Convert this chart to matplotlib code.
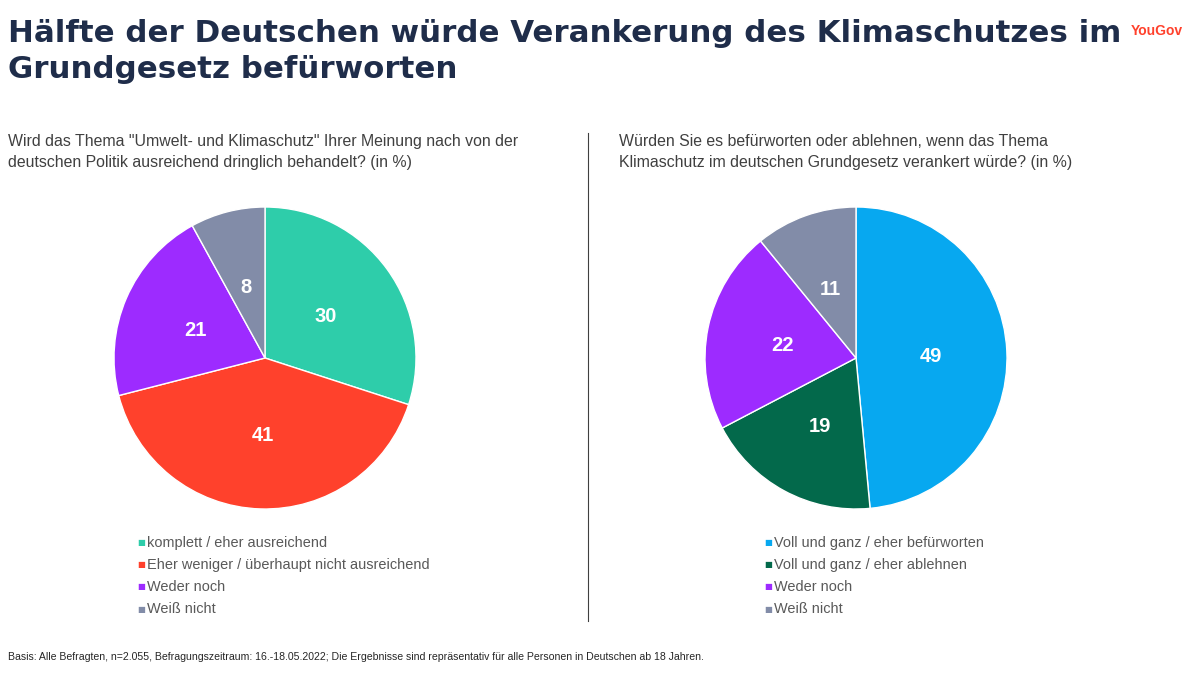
import matplotlib
matplotlib.use("Agg")
import matplotlib.pyplot as plt

plt.rcParams['font.family'] = ['Liberation Sans', 'DejaVu Sans']

title_lines = ["Hälfte der Deutschen würde Verankerung des Klimaschutzes im", "Grundgesetz befürworten"]
footer = "Basis: Alle Befragten, n=2.055, Befragungszeitraum: 16.-18.05.2022; Die Ergebnisse sind repräsentativ für alle Personen in Deutschen ab 18 Jahren."

question_left = "Wird das Thema \"Umwelt- und Klimaschutz\" Ihrer Meinung nach von der\ndeutschen Politik ausreichend dringlich behandelt? (in %)"
labels_left = ["komplett / eher ausreichend", "Eher weniger / überhaupt nicht ausreichend", "Weder noch", "Weiß nicht"]
values_left = [30, 41, 21, 8]
colors_left = ["#2ecdaa", "#ff412c", "#9d2bff", "#828ca8"]

question_right = "Würden Sie es befürworten oder ablehnen, wenn das Thema\nKlimaschutz im deutschen Grundgesetz verankert würde? (in %)"
labels_right = ["Voll und ganz / eher befürworten", "Voll und ganz / eher ablehnen", "Weder noch", "Weiß nicht"]
values_right = [49, 19, 22, 11]
colors_right = ["#07a8f0", "#03694b", "#9d2bff", "#828ca8"]

W, H = 1200, 675
fig = plt.figure(figsize=(W / 100, H / 100), dpi=100)


def draw_pie(cx, values, colors, labels, legend_x):
    # pie radius is about 151 px, centre at y=358
    r = 151
    ax = fig.add_axes([(cx - r) / W, 1 - (358 + r) / H, 2 * r / W, 2 * r / H])
    # right pie adds up to 101, so print the value itself and not the share
    numbers = iter(values)
    wedges, texts, autotexts = ax.pie(values, colors=colors, startangle=90, counterclock=False, radius=1,
                                      autopct=lambda p: str(next(numbers)), pctdistance=0.5,
                                      wedgeprops={"edgecolor": "white", "linewidth": 1.0},
                                      textprops={"color": "white", "fontsize": 14.5, "fontweight": "bold"})
    # numbers sit a little lower than the pie puts them
    for t in autotexts:
        x, y = t.get_position()
        t.set_position((x, y - 2.5 / r))
    ax.set_xlim(-1, 1)
    ax.set_ylim(-1, 1)
    for i, (lab, col) in enumerate(zip(labels, colors)):
        y = 1 - (542.5 + i * 22.2) / H
        fig.text(legend_x / W, y, "\u25a0", color=col, fontsize=6, va="center", ha="left", family="DejaVu Sans")
        fig.text((legend_x + 10) / W, y, lab, color="#595959", fontsize=10.45, va="center", ha="left")


draw_pie(265, values_left, colors_left, labels_left, 137)
draw_pie(856, values_right, colors_right, labels_right, 764)

fig.text(8 / W, 1 - 34 / H, title_lines[0], fontsize=22.2, fontweight="bold", color="#1f2d4a",
         va="center", ha="left", family="DejaVu Sans")
fig.text(8 / W, 1 - 69 / H, title_lines[1], fontsize=22.2, fontweight="bold", color="#1f2d4a",
         va="center", ha="left", family="DejaVu Sans")
fig.text(8 / W, 1 - 152 / H, question_left, fontsize=11.45, color="#404040", va="center", ha="left", linespacing=1.55)
fig.text(619 / W, 1 - 152 / H, question_right, fontsize=11.45, color="#404040", va="center", ha="left", linespacing=1.55)
fig.text(8 / W, 1 - 657 / H, footer, fontsize=7.6, color="#262626", va="center", ha="left")
fig.text(1157 / W, 1 - 31 / H, "YouGov", fontsize=10, color="#ff412c", va="center", ha="center", fontweight="bold")

fig.add_artist(plt.Line2D([588 / W, 588 / W], [1 - 621 / H, 1 - 133 / H], color="#404040", linewidth=0.8))

fig.savefig("out.png", dpi=100)
